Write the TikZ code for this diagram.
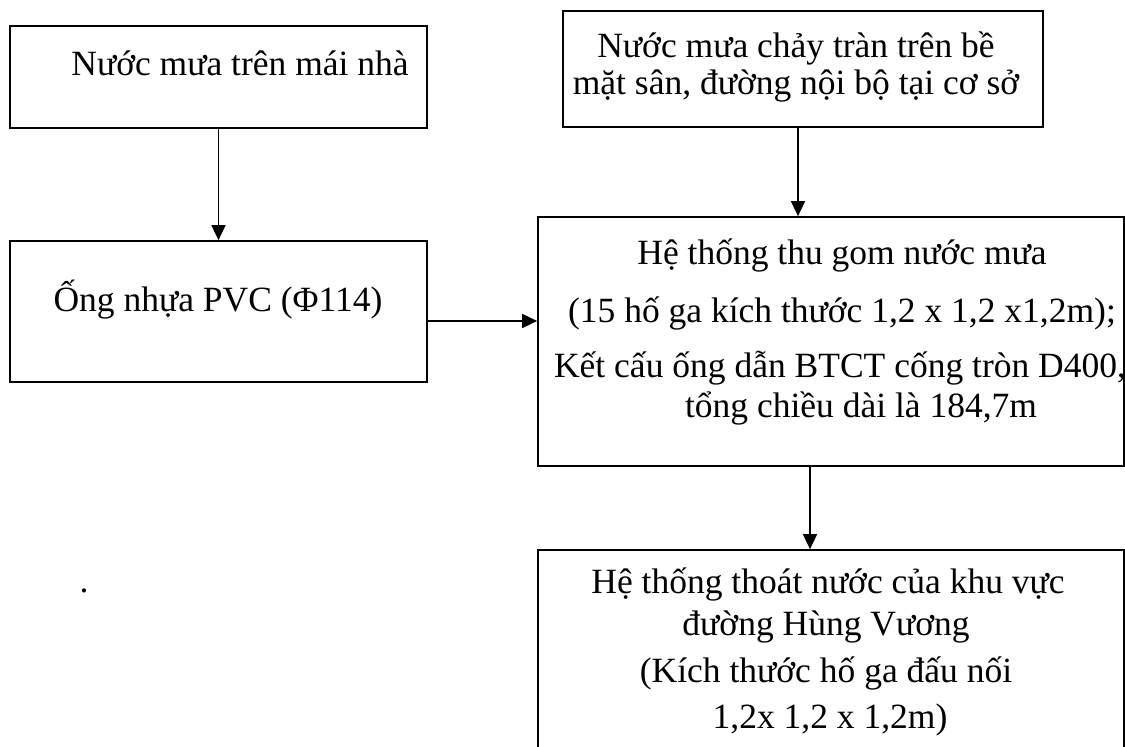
\documentclass[tikz,border=0pt]{standalone}
\usepackage{fontspec}
\setmainfont{Liberation Serif}
\usetikzlibrary{arrows.meta}
\begin{document}
\begin{tikzpicture}[x=0.5pt,y=-0.5pt,
  box/.style={draw, line width=0.85pt, inner sep=0pt, rectangle},
  txt/.style={inner sep=0pt, anchor=base, font=\fontsize{17.75pt}{21pt}\selectfont},
  flow/.style={line width=0.8pt, -{Triangle[length=7.5pt,width=7pt]}}]
\useasboundingbox (0,0) rectangle (1125,747);
\clip (0,0) rectangle (1125,747);

% boxes
\node[box, minimum width=208.5pt, minimum height=51pt]   (roof)    at (218.5,77)  {};
\node[box, minimum width=240pt,   minimum height=58pt]   (yard)    at (803,69)    {};
\node[box, minimum width=208.5pt, minimum height=70.5pt] (pipe)    at (218.5,311.5) {};
\node[box, minimum width=293pt,   minimum height=124.5pt](collect) at (831,341.5) {};
\node[box, minimum width=293pt,   minimum height=125pt]  (drain)   at (831,675)   {};

% texts
\node[txt] (roofA) at (240,76) {Nước mưa trên mái nhà};
\node[txt] (yardA) at (796,58) {Nước mưa chảy tràn trên bề};
\node[txt] (yardB) at (796,95) {mặt sân, đường nội bộ tại cơ sở};
\node[txt] (pipeA) at (218,312) {Ống nhựa PVC (Φ114)};
\node[txt] (colA) at (842,265) {Hệ thống thu gom nước mưa};
\node[txt] (colB) at (842,323) {(15 hố ga kích thước 1,2 x 1,2 x1,2m);};
\node[txt] (colC) at (840,378) {Kết cấu ống dẫn BTCT cống tròn D400,};
\node[txt] (colD) at (861,418) {tổng chiều dài là 184,7m};
\node[txt] (drA) at (828,594) {Hệ thống thoát nước của khu vực};
\node[txt] (drB) at (826,636) {đường Hùng Vương};
\node[txt] (drC) at (826,683) {(Kích thước hố ga đấu nối};
\node[txt] (drD) at (830,729) {1,2x 1,2 x 1,2m)};
\node[txt] (dot) at (84,593) {.};

% connectors
\draw[flow] (roof.south) -- (pipe.north);
\draw[flow] ([xshift=-2.5pt]yard.south) -- ([xshift=-2.5pt]yard.south |- collect.north);
\draw[flow] ([yshift=-4.75pt]pipe.east) -- ([yshift=-4.75pt]pipe.east -| collect.west);
\draw[flow] ([xshift=-10.5pt]collect.south) -- ([xshift=-10.5pt]collect.south |- drain.north);
\end{tikzpicture}
\end{document}
